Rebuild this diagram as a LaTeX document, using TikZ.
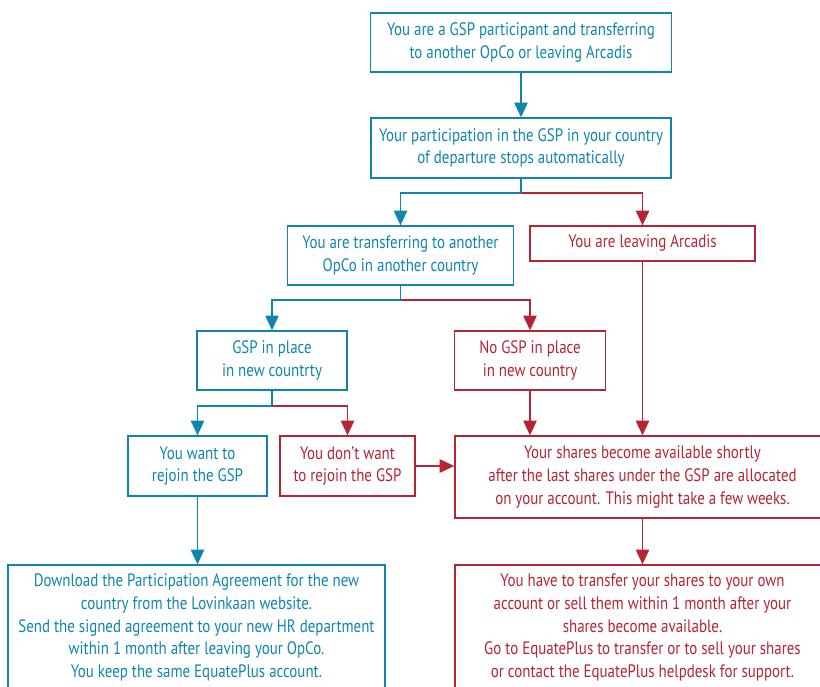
\documentclass[tikz,border=0pt]{standalone}
\usepackage{fontspec}
\setmainfont{PT Sans}[FakeStretch=0.83]
\usetikzlibrary{arrows.meta}

\definecolor{gspblue}{RGB}{14,134,172}
\definecolor{gspred}{RGB}{182,36,52}

\tikzset{every picture/.style={line width=0.75pt}}
\tikzset{
  box/.style={draw, line width=1pt, align=center, inner sep=0pt,
    font=\fontsize{13.5}{17}\selectfont},
  bluebox/.style={box, draw=gspblue, text=gspblue},
  redbox/.style={box, draw=gspred, text=gspred},
  blueline/.style={draw=gspblue, line width=1.1pt, -{Triangle[length=11pt,width=10pt]}},
  redline/.style={draw=gspred, line width=1.1pt, -{Triangle[length=11pt,width=10pt]}}
}

\begin{document}
\begin{tikzpicture}[x=0.75pt,y=0.75pt,yscale=-1,xscale=1]
\useasboundingbox (0,0) rectangle (820,686);

% Text Node
\node [bluebox, minimum width=301*0.75pt, minimum height=59*0.75pt] (start) at (521,42.5)
  {You are a GSP participant and transferring\\to another OpCo or leaving Arcadis};
% Text Node
\node [bluebox, minimum width=300*0.75pt, minimum height=60*0.75pt] (stops) at (521,148)
  {Your participation in the GSP in your country\\of departure stops automatically};
% Text Node
\node [bluebox, minimum width=226*0.75pt, minimum height=59*0.75pt] (transfer) at (400.5,255.5)
  {You are transferring to another\\OpCo in another country};
% Text Node
\node [redbox, minimum width=225*0.75pt, minimum height=35*0.75pt] (leaving) at (642.5,243.5)
  {You are leaving Arcadis};
% Text Node
\node [bluebox, minimum width=150*0.75pt, minimum height=59*0.75pt] (gsp) at (272,360.5)
  {GSP in place\\in new countrty};
% Text Node
\node [redbox, minimum width=151*0.75pt, minimum height=59*0.75pt] (nogsp) at (530,360.5)
  {No GSP in place\\in new country};
% Text Node
\node [bluebox, minimum width=139*0.75pt, minimum height=60*0.75pt] (rejoin) at (197.5,466)
  {You want to\\rejoin the GSP};
% Text Node
\node [redbox, minimum width=135*0.75pt, minimum height=60*0.75pt] (norejoin) at (347.5,466)
  {You don’t want\\to rejoin the GSP};
% Text Node
\node [redbox, minimum width=375*0.75pt, minimum height=82*0.75pt] (available) at (642.5,477)
  {Your shares become available shortly\\after the last shares under the GSP are allocated\\on your account. This might take a few weeks.};
% Text Node
\node [bluebox, minimum width=377*0.75pt, minimum height=125*0.75pt] (download) at (196.5,627.5)
  {Download the Participation Agreement for the new\\country from the Lovinkaan website.\\Send the signed agreement to your new HR department\\within 1 month after leaving your OpCo.\\You keep the same EquatePlus account.};
% Text Node
\node [redbox, minimum width=375*0.75pt, minimum height=125*0.75pt] (sell) at (642.5,627.5)
  {You have to transfer your shares to your own\\account or sell them within 1 month after your\\shares become available.\\Go to EquatePlus to transfer or to sell your shares\\or contact the EquatePlus helpdesk for support.};

% junctions
\coordinate (j1) at (521,193);
\coordinate (j2) at (400.5,300);
\coordinate (j3) at (272,406);

%Straight Lines
\draw [blueline] (start) -- (stops);
\draw [blueline] (stops.south) -- (j1) -| (transfer.north);
\draw [redline] (j1) -| (leaving.north);
\draw [blueline] (transfer.south) -- (j2) -| (gsp.north);
\draw [redline] (j2) -| (nogsp.north);
\draw [blueline] (gsp.south) -- (j3) -| (rejoin.north);
\draw [redline] (j3) -| (norejoin.north);
\draw [redline] (norejoin) -- (norejoin -| available.west);
\draw [redline] (nogsp.south) -- (nogsp.south |- available.north);
\draw [redline] (leaving.south) -- (leaving.south |- available.north);
\draw [blueline] (rejoin.south) -- (rejoin.south |- download.north);
\draw [redline] (available.south) -- (available.south |- sell.north);

\end{tikzpicture}
\end{document}
